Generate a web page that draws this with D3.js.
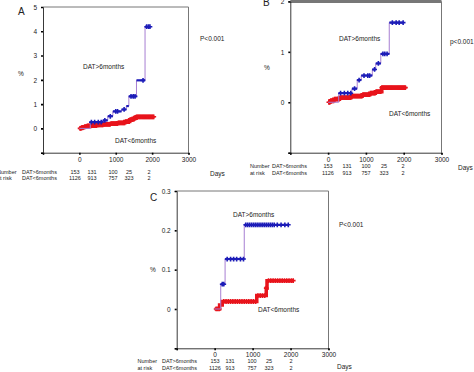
<!DOCTYPE html>
<html>
<head>
<meta charset="utf-8">
<script src="https://cdn.jsdelivr.net/npm/d3@7"></script>
<style>
  body { margin: 0; background: #fff; }
  svg { display: block; font-family: "Liberation Sans", Arial, sans-serif; }
</style>
</head>
<body>
<div id="chart"></div>
<script>
// number at risk table (same for all panels)
const riskLong = [153, 131, 100, 25, 2];
const riskShort = [1126, 913, 757, 323, 2];
const xTicks = [0, 1000, 2000, 3000];

// panel A  (cumulative %, step points)
const aLongDays = [0, 300, 650, 780, 920, 1160, 1290, 1360, 1570, 1805];
const aLongPct = [0, 0.26, 0.33, 0.5, 0.7, 0.78, 0.92, 1.32, 1.98, 4.19];
const aLongCens = [330, 420, 520, 600, 700, 850, 1000, 1050, 1230, 1420, 1480, 1530, 1750, 1850, 1900, 1940];
const aShortDays = [0, 60, 130, 220, 330, 480, 650, 850, 1050, 1250, 1380, 1480, 1560];
const aShortPct = [0, 0.04, 0.07, 0.1, 0.12, 0.15, 0.17, 0.2, 0.23, 0.28, 0.36, 0.42, 0.48];
const aShortCens = d3.range(20, 2060, 25);

// panel B
const bLongDays = [0, 280, 630, 770, 876, 1170, 1260, 1394, 1618];
const bLongPct = [0, 0.18, 0.27, 0.44, 0.53, 0.65, 0.77, 0.96, 1.58];
const bLongCens = [330, 430, 520, 600, 700, 820, 950, 1050, 1100, 1230, 1330, 1450, 1500, 1560, 1700, 1800, 1880, 1985];
const bShortDays = [0, 50, 150, 300, 600, 900, 1100, 1250, 1420];
const bShortPct = [0, 0.03, 0.06, 0.09, 0.12, 0.15, 0.18, 0.21, 0.29];
const bShortCens = d3.range(20, 2070, 25);

// panel C
const cLongDays = [0, 160, 275, 780];
const cLongPct = [0, 0.063, 0.127, 0.214];
const cLongCens = [200, 240, 330, 420, 500, 580, 680, 760, 820, 870, 920, 970, 1020, 1070, 1120, 1170, 1220, 1270, 1320, 1370, 1420, 1470, 1520, 1570, 1650, 1750, 1850, 1940];
const cShortDays = [0, 130, 200, 1110, 1360, 1380];
const cShortPct = [0, 0.01, 0.019, 0.034, 0.053, 0.072];
const cShortCens = [40, 80, 120, 240, 300, 360, 420, 480, 540, 600, 660, 720, 780, 840, 900, 960, 1020, 1080, 1140, 1200, 1260, 1320, 1360, 1420, 1480, 1540, 1600, 1660, 1720, 1780, 1840, 1900, 1960, 2020, 2070];

const W = 474, H = 372;
const BLUE = "#1c1cb8", RED = "#e8141c", PURPLE = "#a77fd2";

const svg = d3.select("#chart").append("svg")
  .attr("width", W).attr("height", H);

const panels = [
  {
    letter: "A", left: 43, right: 188.5, top: 7, bottom: 152.7,
    yDomain: [-1, 5], yTicks: [0, 1, 2, 3, 4, 5], yFmt: d3.format("d"),
    long: { days: aLongDays, pct: aLongPct, cens: aLongCens, end: 1940 },
    short: { days: aShortDays, pct: aShortPct, cens: aShortCens, end: 2050 },
    letterPos: [18, 15], pctPos: [21, 76], pPos: [200, 41], pText: "P<0.001",
    longLbl: [83, 69], shortLbl: [115, 143], daysPos: [210, 176],
    riskLbl: -3, riskName: 22, riskY: [173.5, 180], riskX: [75, 92, 113, 129, 149],
    tickY: 162, frameTop: 1
  },
  {
    letter: "B", left: 290.3, right: 441.5, top: 1.4, bottom: 152.7,
    yDomain: [-1, 2], yTicks: [0, 1, 2], yFmt: d3.format("d"),
    long: { days: bLongDays, pct: bLongPct, cens: bLongCens, end: 1985 },
    short: { days: bShortDays, pct: bShortPct, cens: bShortCens, end: 2060 },
    letterPos: [263, 6], pctPos: [267, 70], pPos: [450, 44], pText: "p<0.001",
    longLbl: [339, 41], shortLbl: [389, 116], daysPos: [458, 170],
    riskLbl: 250, riskName: 272, riskY: [168, 175], riskX: [328, 347, 366, 384, 403],
    tickY: 161.5, frameTop: 3
  },
  {
    letter: "C", left: 176.7, right: 328.5, top: 191, bottom: 348.3,
    yDomain: [-0.1, 0.3], yTicks: [0, 0.1, 0.2, 0.3], yFmt: d => d === 0 ? "0" : d3.format(".1f")(d),
    long: { days: cLongDays, pct: cLongPct, cens: cLongCens, end: 1940 },
    short: { days: cShortDays, pct: cShortPct, cens: cShortCens, end: 2070 },
    letterPos: [150, 201], pctPos: [153, 272], pPos: [339, 227], pText: "P<0.001",
    longLbl: [233, 217], shortLbl: [258, 312], daysPos: [337, 369],
    riskLbl: 137.5, riskName: 162, riskY: [363, 369.5], riskX: [215, 230, 252, 269, 291],
    tickY: 357, frameTop: 1
  }
];

function stepAt(days, pct, t) {
  const i = d3.bisectRight(days, t) - 1;
  return pct[Math.max(0, i)];
}

function plus(g, pts, color, size) {
  g.selectAll(null)
    .data(pts)
    .join("path")
      .attr("d", d3.symbol(d3.symbolCross, size * size * 0.35)())
      .attr("transform", d => `translate(${d[0]},${d[1]})`)
      .attr("fill", color);
}

panels.forEach(p => {
  const g = svg.append("g");
  const x = d3.scaleLinear().domain([-1000, 3000]).range([p.left, p.right]);
  const y = d3.scaleLinear().domain(p.yDomain).range([p.bottom, p.top]);

  // frame
  g.append("line")
    .attr("x1", p.left).attr("x2", p.right).attr("y1", p.top).attr("y2", p.top)
    .attr("stroke", "#777").attr("stroke-width", p.frameTop);
  g.append("line")
    .attr("x1", p.right).attr("x2", p.right).attr("y1", p.top).attr("y2", p.bottom)
    .attr("stroke", "#777").attr("stroke-width", 1);

  // axes
  const ax = g.append("g")
    .attr("transform", `translate(0,${p.bottom})`)
    .call(d3.axisBottom(x).tickValues([-1000, ...xTicks]).tickSize(2).tickFormat(d => d < 0 ? "" : d));
  const ay = g.append("g")
    .attr("transform", `translate(${p.left},0)`)
    .call(d3.axisLeft(y).tickValues([p.yDomain[0], ...p.yTicks]).tickSize(2)
      .tickFormat(d => d === p.yDomain[0] ? "" : p.yFmt(d)));
  [ax, ay].forEach(a => {
    a.select(".domain").attr("stroke", "#222").attr("stroke-width", 0.9);
    a.selectAll(".tick line").attr("stroke", "#000").attr("stroke-width", 1.6);
    a.selectAll("text").attr("font-size", 6.5).attr("fill", "#222");
  });
  ax.selectAll("text").attr("y", null).attr("dy", null)
    .attr("transform", `translate(0,${p.tickY - p.bottom})`);
  ay.selectAll("text").attr("x", -6).attr("dy", "0.35em");

  const line = d3.line().curve(d3.curveStepAfter).x(d => x(d[0])).y(d => y(d[1]));

  // DAT<6months (red)
  const s = p.short;
  const sPts = s.days.map((d, i) => [d, s.pct[i]]).concat([[s.end, s.pct[s.pct.length - 1]]]);
  g.append("path").attr("d", line(sPts))
    .attr("fill", "none").attr("stroke", RED).attr("stroke-width", 3.5);
  plus(g, s.cens.map(t => [x(t), y(stepAt(s.days, s.pct, t))]), RED, 6);

  // DAT>6months (purple step, blue horizontals and censor marks)
  const l = p.long;
  const lPts = l.days.map((d, i) => [d, l.pct[i]]).concat([[l.end, l.pct[l.pct.length - 1]]]);
  g.append("path").attr("d", line(lPts))
    .attr("fill", "none").attr("stroke", PURPLE).attr("stroke-width", 1);
  const segs = lPts.slice(1).map((d, i) => [lPts[i], [d[0], lPts[i][1]]])
    .filter(sg => sg[0][1] > 0);
  g.selectAll(null).data(segs).join("line")
    .attr("x1", d => x(d[0][0])).attr("x2", d => x(d[1][0]))
    .attr("y1", d => y(d[0][1])).attr("y2", d => y(d[1][1]))
    .attr("stroke", BLUE).attr("stroke-width", 2.2);
  plus(g, l.cens.map(t => [x(t), y(stepAt(l.days, l.pct, t))]), BLUE, 6);

  // texts
  const txt = (pos, str, size, anchor) => svg.append("text")
    .attr("x", pos[0]).attr("y", pos[1]).attr("font-size", size)
    .attr("text-anchor", anchor || "start").attr("fill", "#222").text(str);
  txt(p.letterPos, p.letter, 10);
  txt(p.pctPos, "%", 6.5, "middle");
  txt(p.pPos, p.pText, 6.5);
  txt(p.longLbl, "DAT>6months", 6.5);
  txt(p.shortLbl, "DAT<6months", 6.5);
  txt(p.daysPos, "Days", 6.5);

  txt([p.riskLbl, p.riskY[0]], "Number", 5.5);
  txt([p.riskLbl, p.riskY[1]], "at risk", 5.5);
  txt([p.riskName, p.riskY[0]], "DAT>6months", 5.5);
  txt([p.riskName, p.riskY[1]], "DAT<6months", 5.5);
  p.riskX.forEach((rx, i) => {
    txt([rx, p.riskY[0]], riskLong[i], 5.5, "middle");
    txt([rx, p.riskY[1]], riskShort[i], 5.5, "middle");
  });
});
</script>
</body>
</html>
